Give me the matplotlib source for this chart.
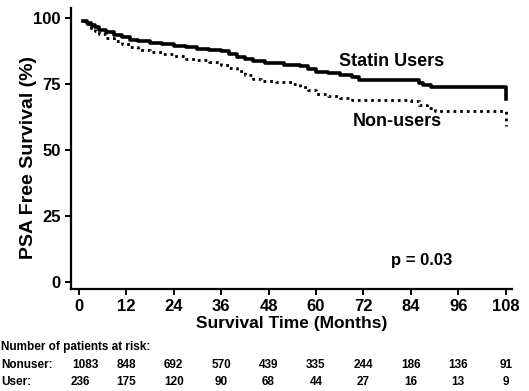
import matplotlib.pyplot as plt
from matplotlib.font_manager import FontProperties

plt.rcParams['font.family'] = ['Liberation Sans', 'DejaVu Sans']
plt.rcParams['font.weight'] = 'bold'
plt.rcParams['axes.labelweight'] = 'bold'

# Kaplan-Meier estimates (months, % PSA free)
statin_t = [1, 2, 3, 4, 5, 7, 9, 11, 13, 15, 18, 21, 24, 27, 30, 33, 36, 38, 40,
            42, 44, 47, 52, 56, 58, 60, 63, 66, 69, 71, 86, 87, 89, 108]
statin_s = [99, 98.2, 97.3, 96.5, 95.5, 94.6, 93.6, 92.7, 91.8, 91.2, 90.6, 90.0,
            89.4, 88.9, 88.4, 88.0, 87.4, 86.3, 85.2, 84.3, 83.5, 82.8, 82.2, 81.6,
            80.5, 79.6, 79.0, 78.3, 77.6, 76.6, 75.4, 74.6, 73.9, 69.3]

non_t = [1, 2, 3, 4, 5, 7, 9, 11, 13, 15, 18, 21, 24, 27, 30, 33, 36, 38, 40, 42,
         44, 46, 50, 54, 56, 58, 60, 63, 66, 69, 76, 84, 86, 88, 90, 108]
non_s = [99, 97.5, 96.2, 95, 93.8, 92.5, 91.2, 90, 88.8, 88, 87, 86.2, 85.4, 84.6,
         84, 83.3, 82.3, 81, 79.8, 78.5, 77, 76.2, 75.6, 74.8, 73.8, 72.6, 71.3,
         70.5, 69.8, 69.1, 68.8, 68.4, 67, 65.9, 64.6, 59]

months = [0, 12, 24, 36, 48, 60, 72, 84, 96, 108]
yticks = [0, 25, 50, 75, 100]
at_risk_nonuser = [1083, 848, 692, 570, 439, 335, 244, 186, 136, 91]
at_risk_user = [236, 175, 120, 90, 68, 44, 27, 16, 13, 9]

tick_font = FontProperties(family='Liberation Sans', weight='bold', size=12)

fig = plt.figure(figsize=(5.29, 3.91), dpi=100)
ax = fig.add_axes([0.134, 0.261, 0.834, 0.719])

ax.step(statin_t, statin_s, where='post', color='black', linewidth=2.6)
ax.step(non_t, non_s, where='post', color='black', linewidth=2.0,
        linestyle=(0, (1, 1.4)))

ax.set_xlim(-2, 109.6)
ax.set_ylim(-2.6, 103.8)

for side in ['top', 'right']:
    ax.spines[side].set_visible(False)
for side in ['left', 'bottom']:
    ax.spines[side].set_linewidth(1.6)
ax.tick_params(width=1.4, length=4.5, pad=3)

ax.set_xticks(months, [str(m) for m in months], fontproperties=tick_font)
ax.set_yticks(yticks, [str(v) for v in yticks], fontproperties=tick_font)

ax.set_xlabel('Survival Time (Months)', fontsize=12.5, labelpad=1)
ax.set_ylabel('PSA Free Survival (%)', fontsize=14)
ax.yaxis.set_label_coords(-0.077, 0.466)

ax.text(79.2, 83.3, 'Statin Users', fontsize=13, ha='center', va='center')
ax.text(80.5, 60.6, 'Non-users', fontsize=13, ha='center', va='center')
ax.text(86.8, 8.0, 'p = 0.03', fontsize=12, ha='center', va='center')

# numbers at risk below the axis
fig.text(0.002, 1 - 347 / 391, 'Number of patients at risk:', fontsize=8.5,
         va='center')
row_y = [1 - 365 / 391, 1 - 382 / 391]
fig.text(0.002, row_y[0], 'Nonuser:', fontsize=8.5, va='center')
fig.text(0.002, row_y[1], 'User:', fontsize=8.5, va='center')
for y, counts, first_dx in zip(row_y, [at_risk_nonuser, at_risk_user], [7, 2]):
    for i, m in enumerate(months):
        dx = first_dx if i == 0 else 0
        ax.annotate(str(counts[i]), xy=(m, y),
                    xycoords=('data', 'figure fraction'),
                    xytext=(dx, 0), textcoords='offset pixels',
                    fontsize=8.5, ha='center', va='center',
                    annotation_clip=False)

fig.savefig('out.png', dpi=100)
